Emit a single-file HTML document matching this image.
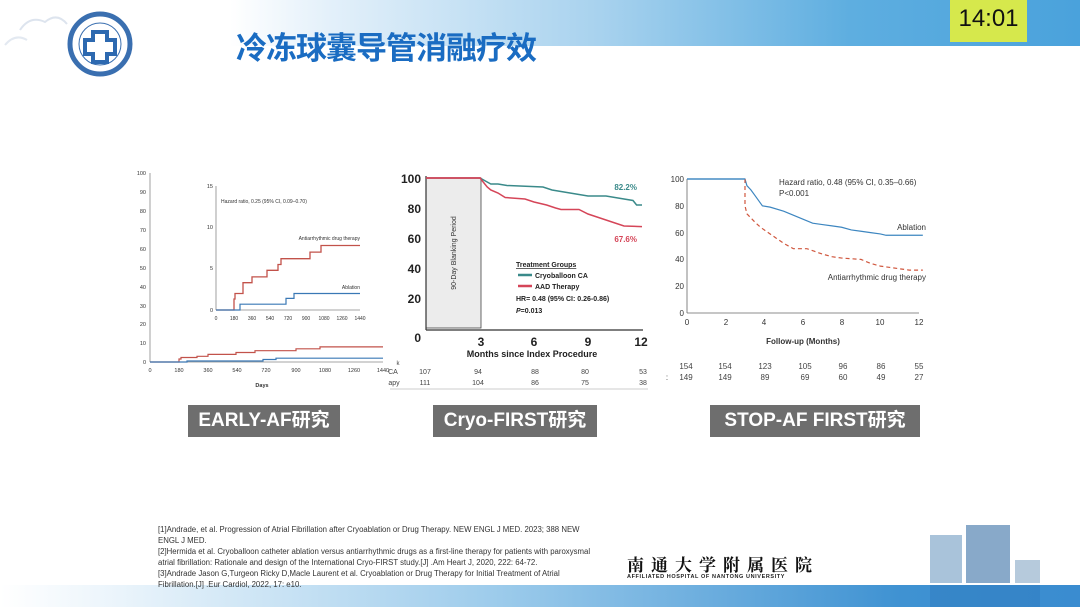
<!DOCTYPE html>
<html><head><meta charset="utf-8"><style>
*{margin:0;padding:0}
body{width:1080px;height:607px;overflow:hidden;background:#fff;position:relative;font-family:"Liberation Sans","Noto Sans CJK SC",sans-serif}
.hdr{position:absolute;left:0;top:0;width:1080px;height:46px;background:linear-gradient(90deg,#fff 0,#fff 230px,#e3f0fa 330px,#a8d2ee 600px,#5eaee0 850px,#4aa2dc 1080px)}
.clock{position:absolute;left:950px;top:0;width:77px;height:42px;background:#d6e84c;font-size:24px;text-align:center;line-height:38px;color:#111}
.title{position:absolute;left:236px;top:23px;font-size:31px;font-weight:bold;color:#1a6cc2;letter-spacing:-1px;font-family:"Noto Sans CJK SC",sans-serif}
.lbl{position:absolute;top:405px;height:32px;background:#6e6e6e;color:#fff;font-weight:bold;font-size:19px;line-height:32px;text-align:center;font-family:"Liberation Sans","Noto Sans CJK SC",sans-serif}
.ref{position:absolute;left:158px;top:524px;font-size:7.8px;line-height:11px;color:#333;width:438px}
.foot{position:absolute;left:0;top:585px;width:1080px;height:22px;background:linear-gradient(90deg,#fff 0,#eaf4fb 120px,#9ccbeb 500px,#3f92d2 900px,#3a8cd0 1080px)}
svg{position:absolute;left:0;top:0}
</style></head><body>
<div class="hdr"></div>
<div class="clock">14:01</div>
<div class="title">冷冻球囊导管消融疗效</div>
<div class="foot"></div>
<svg width="1080" height="607" font-family="Liberation Sans, sans-serif">
<circle cx="100" cy="44" r="30" fill="#fff" stroke="#3a6fb0" stroke-width="5"/>
<circle cx="100" cy="44" r="21" fill="none" stroke="#3a6fb0" stroke-width="1"/>
<path d="M93 32h14v8h8v14h-8v8h-14v-8h-8v-14h8z" fill="none" stroke="#2d69b0" stroke-width="4"/>
<path d="M20 30 q10 -15 25 -8 q12 -10 22 2" fill="none" stroke="#dde4ee" stroke-width="2"/>
<path d="M5 45 q10 -12 22 -5" fill="none" stroke="#e3e9f1" stroke-width="2"/>

<g font-size="5.5" fill="#333" stroke="none">
<line x1="150" y1="173" x2="150" y2="362" stroke="#888" stroke-width="0.8"/>
<line x1="150" y1="362" x2="383" y2="362" stroke="#888" stroke-width="0.8"/>
<g text-anchor="end">
<text x="146" y="175">100</text><text x="146" y="194">90</text><text x="146" y="213">80</text><text x="146" y="232">70</text><text x="146" y="251">60</text><text x="146" y="270">50</text><text x="146" y="289">40</text><text x="146" y="308">30</text><text x="146" y="326">20</text><text x="146" y="345">10</text><text x="146" y="364">0</text>
</g>
<g text-anchor="middle">
<text x="150" y="372">0</text><text x="179" y="372">180</text><text x="208" y="372">360</text><text x="237" y="372">540</text><text x="266" y="372">720</text><text x="296" y="372">900</text><text x="325" y="372">1080</text><text x="354" y="372">1260</text><text x="383" y="372">1440</text>
<text x="262" y="387" font-weight="bold">Days</text>
</g>
<line x1="216" y1="186" x2="216" y2="310" stroke="#888" stroke-width="0.8"/>
<line x1="216" y1="310" x2="360" y2="310" stroke="#888" stroke-width="0.8"/>
<g text-anchor="end"><text x="213" y="188">15</text><text x="213" y="229">10</text><text x="213" y="270">5</text><text x="213" y="312">0</text></g>
<g text-anchor="middle" font-size="5">
<text x="216" y="320">0</text><text x="234" y="320">180</text><text x="252" y="320">360</text><text x="270" y="320">540</text><text x="288" y="320">720</text><text x="306" y="320">900</text><text x="324" y="320">1080</text><text x="342" y="320">1260</text><text x="360" y="320">1440</text>
</g>
<text x="221" y="203" font-size="5">Hazard ratio, 0.25 (95% CI, 0.09–0.70)</text>
<text x="360" y="240" font-size="5" text-anchor="end">Antiarrhythmic drug therapy</text>
<text x="360" y="289" font-size="5" text-anchor="end">Ablation</text>
</g>
<path d="M216,310 H234 V299 H235 V293.5 H243 V282.7 H252 V276.9 H267 V270.3 H278 V264.5 H281 V258.7 H310 V252.1 H321 V245.5 H360" fill="none" stroke="#c2524a" stroke-width="1.3"/>
<path d="M216,310 H240 V304.2 H286 V298.4 H294 V293.5 H360" fill="none" stroke="#3a78b5" stroke-width="1.2"/>
<path d="M150,362 H179 V359 H181 V357.5 H197 V356.3 H208 V354.4 H236 V352.5 H255 V350.7 H296 V348.8 H320 V346.9 H383" fill="none" stroke="#c2524a" stroke-width="1.2"/>
<path d="M150,362 H187 V361 H263 V359.5 H276 V358.2 H383" fill="none" stroke="#3a78b5" stroke-width="1.2"/>

<rect x="426" y="178" width="55" height="150" fill="#ececec" stroke="#444" stroke-width="0.8"/>
<text transform="translate(456,253) rotate(-90)" font-size="7" text-anchor="middle" fill="#333">90-Day Blanking Period</text>
<line x1="426" y1="176" x2="426" y2="330" stroke="#333" stroke-width="1.2"/>
<line x1="426" y1="330" x2="643" y2="330" stroke="#333" stroke-width="1.2"/>
<g font-size="12" font-weight="bold" fill="#222" text-anchor="end">
<text x="421" y="183">100</text><text x="421" y="213">80</text><text x="421" y="243">60</text><text x="421" y="273">40</text><text x="421" y="303">20</text><text x="421" y="342">0</text>
</g>
<g font-size="12" font-weight="bold" fill="#222" text-anchor="middle">
<text x="481" y="346">3</text><text x="534" y="346">6</text><text x="588" y="346">9</text><text x="641" y="346">12</text>
</g>
<text x="532" y="357" font-size="9" font-weight="bold" fill="#222" text-anchor="middle">Months since Index Procedure</text>
<g transform="translate(426,328) scale(18,-1.5)">
<polyline vector-effect="non-scaling-stroke" fill="none" stroke="#3a8a8a" stroke-width="1.5" points="0,100 3,100 3.3,98 3.6,96 4,96 4.5,95 6.5,94 7,92 8,90 9,88 10,88 11,86 11.5,85 11.7,82 12,82"/>
<polyline vector-effect="non-scaling-stroke" fill="none" stroke="#d54558" stroke-width="1.5" points="0,100 3,100 3.2,97 3.4,94 3.6,92 4,90 4.4,87 5.5,86 6,84 6.7,82 7.2,80 7.5,79 8.5,79 9,76 9.5,74 10,72 10.5,70 11,68 12,67.6"/>
</g>
<line x1="426" y1="178" x2="481" y2="178" stroke="#d54558" stroke-width="1.5"/>
<text x="637" y="190" font-size="8" font-weight="bold" fill="#3a8a8a" text-anchor="end">82.2%</text>
<text x="637" y="242" font-size="8" font-weight="bold" fill="#d54558" text-anchor="end">67.6%</text>
<g font-size="7" fill="#222">
<text x="516" y="267" font-weight="bold" text-decoration="underline">Treatment Groups</text>
<line x1="518" y1="275" x2="532" y2="275" stroke="#3a8a8a" stroke-width="2.5"/>
<text x="535" y="278" font-weight="bold">Cryoballoon CA</text>
<line x1="518" y1="286" x2="532" y2="286" stroke="#d54558" stroke-width="2.5"/>
<text x="535" y="289" font-weight="bold">AAD Therapy</text>
<text x="516" y="301" font-weight="bold">HR= 0.48 (95% CI: 0.26-0.86)</text>
<text x="516" y="313" font-weight="bold"><tspan font-style="italic">P</tspan>=0.013</text>
</g>
<g font-size="7" fill="#444" text-anchor="middle">
<text x="398" y="365" font-size="6">k</text>
<text x="393" y="374">CA</text><text x="425" y="374">107</text><text x="478" y="374">94</text><text x="535" y="374">88</text><text x="585" y="374">80</text><text x="643" y="374">53</text>
<text x="394" y="385">apy</text><text x="425" y="385">111</text><text x="478" y="385">104</text><text x="535" y="385">86</text><text x="585" y="385">75</text><text x="643" y="385">38</text>
</g>
<line x1="390" y1="389" x2="648" y2="389" stroke="#999" stroke-width="0.6"/>

<line x1="687" y1="179" x2="687" y2="313" stroke="#666" stroke-width="0.8"/>
<line x1="687" y1="313" x2="919" y2="313" stroke="#666" stroke-width="0.8"/>
<g font-size="8" fill="#333" text-anchor="end">
<text x="684" y="182">100</text><text x="684" y="209">80</text><text x="684" y="236">60</text><text x="684" y="262">40</text><text x="684" y="289">20</text><text x="684" y="316">0</text>
</g>
<g font-size="8" fill="#333" text-anchor="middle">
<text x="687" y="325">0</text><text x="726" y="325">2</text><text x="764" y="325">4</text><text x="803" y="325">6</text><text x="842" y="325">8</text><text x="880" y="325">10</text><text x="919" y="325">12</text>
<text x="803" y="344" font-weight="bold">Follow-up (Months)</text>
</g>
<g transform="translate(687,313) scale(19.33,-1.34)">
<polyline vector-effect="non-scaling-stroke" fill="none" stroke="#3d86c0" stroke-width="1.2" points="0,100 3,100 3.1,95 3.3,92 3.5,88 3.7,84 3.9,80 4.3,79 5,76 5.5,73 6,70 6.5,67 7,66 7.5,65 8,64 8.5,62 9,61 9.5,60 10,59 10.3,58 12.2,58"/>
<polyline vector-effect="non-scaling-stroke" fill="none" stroke="#d0573e" stroke-width="1.2" stroke-dasharray="4,3" points="3,100 3,80 3.1,74 3.5,68 3.8,64 4.2,60 4.6,56 5,52 5.5,48 6.2,48 6.6,46 7,44 7.5,42 8,41 9,40 9.5,37 10,35 10.5,34 11,33 11.5,32 12.2,32"/>
</g>
<line x1="687" y1="179" x2="745" y2="179" stroke="#3d86c0" stroke-width="1.2"/>
<g font-size="8" fill="#333">
<text x="779" y="185">Hazard ratio, 0.48 (95% CI, 0.35–0.66)</text>
<text x="779" y="196">P&lt;0.001</text>
<text x="926" y="230" text-anchor="end">Ablation</text>
<text x="926" y="280" text-anchor="end">Antiarrhythmic drug therapy</text>
</g>
<g font-size="8" fill="#444" text-anchor="middle">
<text x="686" y="369">154</text><text x="725" y="369">154</text><text x="765" y="369">123</text><text x="805" y="369">105</text><text x="843" y="369">96</text><text x="881" y="369">86</text><text x="919" y="369">55</text>
<text x="667" y="380">:</text><text x="686" y="380">149</text><text x="725" y="380">149</text><text x="765" y="380">89</text><text x="805" y="380">69</text><text x="843" y="380">60</text><text x="881" y="380">49</text><text x="919" y="380">27</text>
</g>

<text x="627" y="571" font-size="17" font-weight="bold" fill="#111" letter-spacing="7" font-family="Noto Serif CJK SC, serif">南通大学附属医院</text>
<text x="627" y="578" font-size="5.5" font-weight="bold" fill="#222" letter-spacing="0.6">AFFILIATED HOSPITAL OF NANTONG UNIVERSITY</text>
<rect x="930" y="535" width="32" height="48" fill="#a9c3da"/>
<rect x="966" y="525" width="44" height="58" fill="#88a9c9"/>
<rect x="1015" y="560" width="25" height="23" fill="#b6cadc"/>
<rect x="930" y="585" width="110" height="22" fill="#2f7bbf" opacity="0.5"/>
</svg>
<div class="lbl" style="left:188px;width:152px">EARLY-AF研究</div>
<div class="lbl" style="left:433px;width:164px">Cryo-FIRST研究</div>
<div class="lbl" style="left:710px;width:210px">STOP-AF FIRST研究</div>
<div class="ref">[1]Andrade, et al. Progression of Atrial Fibrillation after Cryoablation or Drug Therapy. NEW ENGL J MED. 2023; 388 NEW ENGL J MED.<br>[2]Hermida et al. Cryoballoon catheter ablation versus antiarrhythmic drugs as a first-line therapy for patients with paroxysmal atrial fibrillation: Rationale and design of the International Cryo-FIRST study.[J] .Am Heart J, 2020, 222: 64-72.<br>[3]Andrade Jason G,Turgeon Ricky D,Macle Laurent et al. Cryoablation or Drug Therapy for Initial Treatment of Atrial Fibrillation.[J] .Eur Cardiol, 2022, 17: e10.</div>
</body></html>
